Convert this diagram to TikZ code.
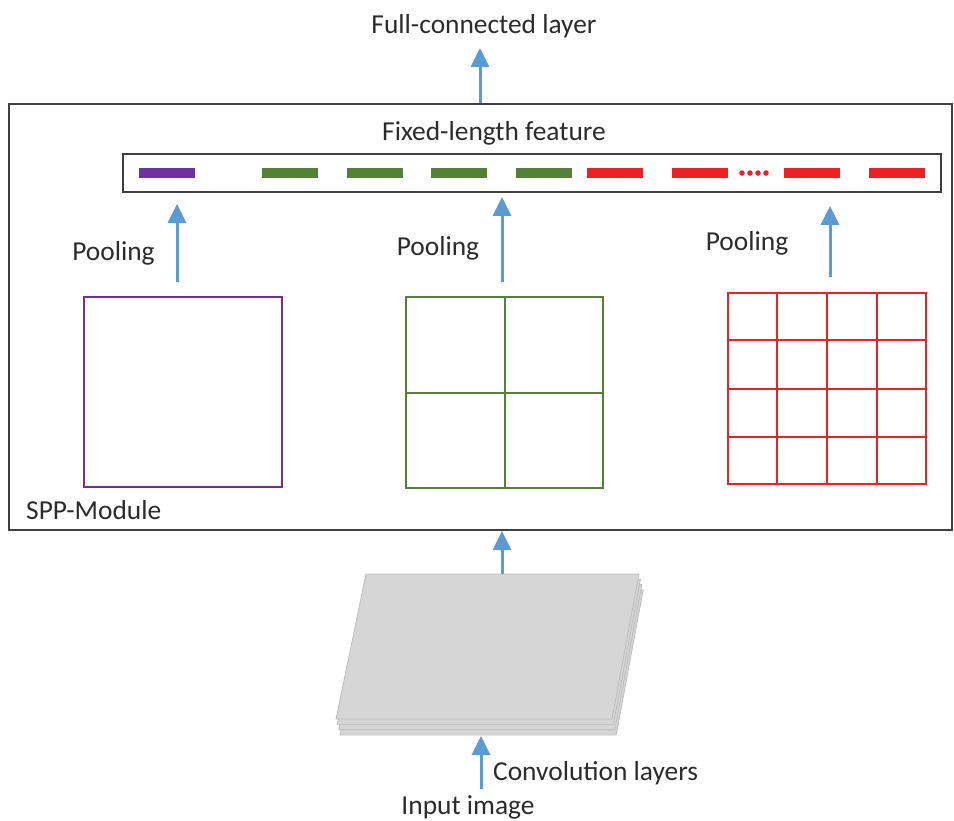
\documentclass[tikz,border=0pt]{standalone}
\usepackage{fontspec}
\setmainfont{Carlito}
\usetikzlibrary{arrows.meta,calc}
\definecolor{txt}{HTML}{2B2B2B}
\definecolor{flowblue}{HTML}{5B9BD5}
\definecolor{pur}{HTML}{7030A0}
\definecolor{grn}{HTML}{548235}
\definecolor{rd}{HTML}{EE2024}
\definecolor{frame}{HTML}{404040}
\definecolor{sheet}{HTML}{D6D6D6}
\definecolor{sheetedge}{HTML}{BDBDBD}
\begin{document}
\begin{tikzpicture}[x=1pt,y=-1pt,
  label/.style={text=txt,font=\fontsize{27.4}{32}\selectfont,inner sep=0pt},
  flow/.style={draw=flowblue,line width=3pt,-{Triangle[length=19pt,width=18pt]}},
  box/.style={draw,line width=2pt,inner sep=0pt},
  bin/.style={inner sep=0pt,minimum width=56pt,minimum height=10pt},
  sheetpoly/.style={fill=sheet,draw=sheetedge,line width=0.8pt}]
  \useasboundingbox (0,0) rectangle (954,821);

  % SPP module frame and the fixed-length feature vector
  \node[box,draw=frame,minimum width=943pt,minimum height=426pt] (spp) at (480.5,317) {};
  \node[box,draw=frame,minimum width=818pt,minimum height=38pt] (bar) at (532,173) {};

  % pooled bins
  \node[bin,fill=pur] (b0) at (167,173) {};
  \node[bin,fill=grn] (g1) at (290,173) {};
  \node[bin,fill=grn] (g2) at (374.5,173) {};
  \node[bin,fill=grn] (g3) at (458.5,173) {};
  \node[bin,fill=grn] (g4) at (543.5,173) {};
  \node[bin,fill=rd] (r1) at (615,173) {};
  \node[bin,fill=rd] (r2) at (699.5,173) {};
  \node[bin,fill=rd] (r3) at (811.5,173) {};
  \node[bin,fill=rd] (r4) at (896.5,173) {};
  \foreach \i/\x in {1/742,2/750,3/758,4/766}
    \fill[rd] (\x,173) circle (2.8pt) coordinate (d\i);

  % pyramid levels: 1x1, 2x2, 4x4
  \node[box,draw=pur,minimum width=198pt,minimum height=190pt] (pp) at (183,392) {};
  \node[box,draw=grn,minimum width=197pt,minimum height=191pt] (pg) at (504.5,392.5) {};
  \draw[grn,line width=2pt] (pg.north) -- (pg.south) (pg.west) -- (pg.east);
  \node[box,draw=rd,minimum width=198pt,minimum height=191pt] (pr) at (827,388.5) {};
  \foreach \k in {1,2,3} {
    \draw[rd,line width=2pt] ($(pr.north west)!\k/4!(pr.north east)$) -- ($(pr.south west)!\k/4!(pr.south east)$);
    \draw[rd,line width=2pt] ($(pr.north west)!\k/4!(pr.south west)$) -- ($(pr.north east)!\k/4!(pr.south east)$);
  }

  % pooling arrows
  \draw[flow,shorten <=14pt,shorten >=11pt] ([xshift=-6pt]pp.north) -- ([xshift=-6pt]bar.south -| pp.north);
  \draw[flow,shorten <=14pt,shorten >=4pt] ([xshift=-2.5pt]pg.north) -- ([xshift=-2.5pt]bar.south -| pg.north);
  \draw[flow,shorten <=15pt,shorten >=13pt] ([xshift=3pt]pr.north) -- ([xshift=3pt]bar.south -| pr.north);

  \node[label] (lp1) at (113.5,253) {Pooling};
  \node[label] (lp2) at (438,248) {Pooling};
  \node[label] (lp3) at (747,243) {Pooling};
  \node[label] (lfix) at (494,133) {Fixed-length feature};
  \node[label,anchor=west] (lspp) at (26,510) {SPP-Module};

  % output
  \node[label] (fc) at (484,26) {Full-connected layer};
  \draw[flow,shorten >=10pt] (spp.north -| 480,0) -- (fc.south -| 480,0);

  % stack of convolutional feature maps
  \foreach \s in {3,2,1,0}
    \draw[sheetpoly,shift={(1.4*\s,5.3*\s)}] (366,574) -- (639,574) -- (612,719) -- (336,719) -- cycle;
  \coordinate (stacktop) at (502,574);
  \coordinate (stackbot) at (481,736);
  \draw[flow] (stacktop) -- (spp.south -| stacktop);

  % input
  \node[label,anchor=west] (conv) at (493,773) {Convolution layers};
  \node[label] (inp) at (468,807) {Input image};
  \coordinate (instart) at (481,789);
  \draw[flow] (instart) -- (stackbot);
\end{tikzpicture}
\end{document}
